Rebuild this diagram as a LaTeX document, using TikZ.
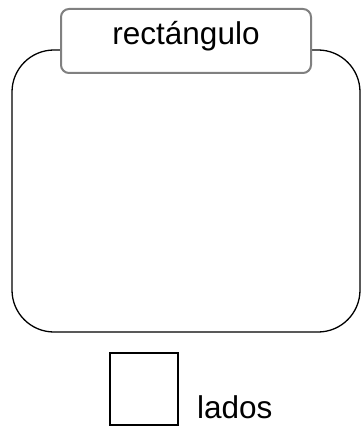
\documentclass[tikz,border=0pt]{standalone}
\usepackage{fontspec}
\setmainfont{Liberation Sans}
\usetikzlibrary{positioning}

\begin{document}
\begin{tikzpicture}[
  x=1pt, y=-1pt,
  frame/.style={draw, line width=1.3pt, rounded corners=42pt},
  titlebox/.style={draw=black!50, line width=2pt, fill=white, rounded corners=8pt,
                   minimum width=250pt, minimum height=64pt,
                   text height=0.76em, text depth=0pt, font=\fontsize{31.5}{36}\selectfont},
  sqbox/.style={draw, line width=1.3pt, minimum width=68pt, minimum height=72pt, inner sep=0pt},
  lbl/.style={font=\fontsize{31.5}{36}\selectfont, inner sep=0pt},
]
\useasboundingbox (0,0) rectangle (362,427);
\draw[frame] (12,50) rectangle (360,332);
\node[titlebox] (title) at (186,41) {rectángulo};
\node[sqbox] (side) at (144,389) {};
\node[lbl, anchor=base west] (sidelbl) at (197,418) {lados};
\end{tikzpicture}
\end{document}
